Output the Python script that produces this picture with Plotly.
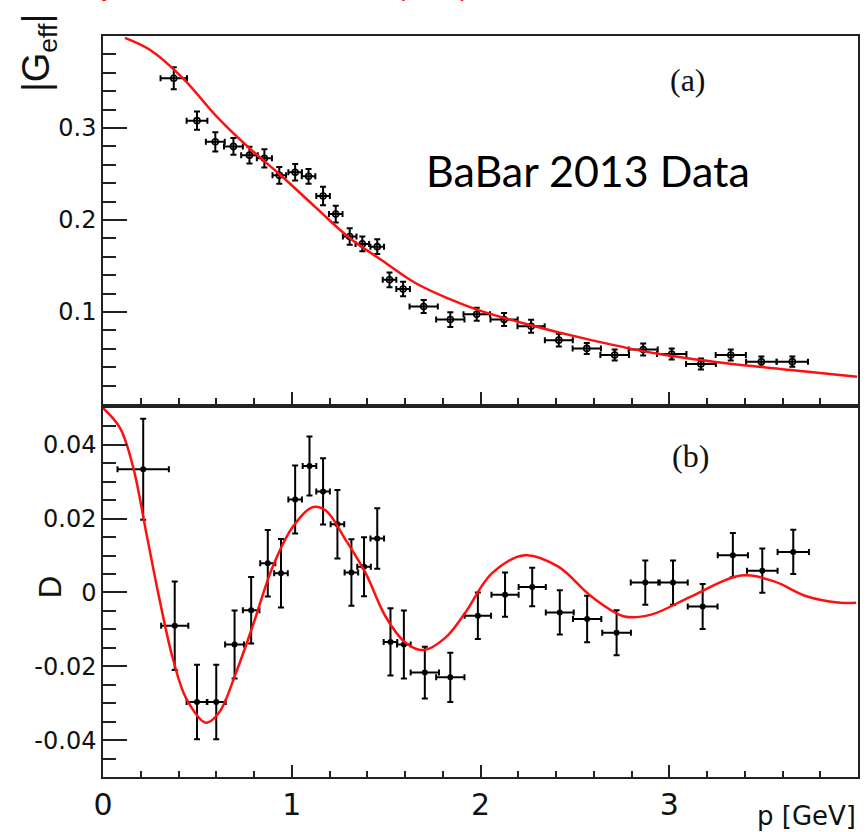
import plotly.graph_objects as go

# ---- Panel (a): |G_eff| vs p ----
p_a = [0.375, 0.498, 0.595, 0.691, 0.776, 0.855, 0.934, 1.018, 1.089, 1.166,
       1.233, 1.307, 1.374, 1.453, 1.518, 1.590, 1.699, 1.840, 1.980, 2.125,
       2.268, 2.415, 2.563, 2.711, 2.862, 3.013, 3.168, 3.326, 3.488, 3.652]
g_a = [0.354, 0.308, 0.285, 0.280, 0.2705, 0.267, 0.2485, 0.2518, 0.2475, 0.226,
       0.2064, 0.182, 0.174, 0.171, 0.135, 0.125, 0.106, 0.0918, 0.0975, 0.0918,
       0.0845, 0.0694, 0.0604, 0.0532, 0.0593, 0.0543, 0.0435, 0.0532, 0.046, 0.046]
g_a_err = [0.012, 0.01, 0.0105, 0.009, 0.009, 0.0099, 0.009, 0.009, 0.008, 0.01,
           0.009, 0.009, 0.008, 0.008, 0.008, 0.008, 0.007, 0.008, 0.007, 0.007,
           0.007, 0.007, 0.006, 0.006, 0.0065, 0.006, 0.006, 0.006, 0.0055, 0.0055]
p_a_err = [0.07, 0.055, 0.05, 0.05, 0.044, 0.04, 0.036, 0.036, 0.036, 0.036,
           0.036, 0.036, 0.036, 0.036, 0.036, 0.036, 0.075, 0.075, 0.07, 0.072,
           0.072, 0.074, 0.075, 0.076, 0.077, 0.078, 0.079, 0.08, 0.081, 0.083]

# fit curve (a)
fit_a_p = [0.116, 0.248, 0.424, 0.600, 0.776, 0.934, 1.128, 1.303, 1.479, 1.655,
           1.831, 1.989, 2.236, 2.587, 2.939, 3.291, 3.643, 3.995]
fit_a_g = [0.398, 0.385, 0.354, 0.313, 0.278, 0.2500, 0.2135, 0.181, 0.156, 0.1315,
           0.1145, 0.1020, 0.0872, 0.0694, 0.0545, 0.0445, 0.037, 0.0297]

# ---- Panel (b): D vs p ----
p_b = [0.213, 0.380, 0.498, 0.600, 0.697, 0.785, 0.873, 0.943, 1.018, 1.094,
       1.166, 1.242, 1.316, 1.383, 1.453, 1.523, 1.594, 1.705, 1.840, 1.986,
       2.130, 2.274, 2.420, 2.565, 2.721, 2.873, 3.020, 3.177, 3.337, 3.493, 3.657]
d_b = [0.0334, -0.0090, -0.0297, -0.0297, -0.0141, -0.0048, 0.0079, 0.0052, 0.0252, 0.0343,
       0.0274, 0.0185, 0.0054, 0.0070, 0.0146, -0.0134, -0.0141, -0.0217, -0.0230, -0.0063,
       -0.0006, 0.0015, -0.0054, -0.0072, -0.0109, 0.0027, 0.0027, -0.0038, 0.0101, 0.0059, 0.0110]
d_b_err = [0.0137, 0.012, 0.0101, 0.0101, 0.0092, 0.009, 0.009, 0.0093, 0.0092, 0.008,
           0.009, 0.0093, 0.009, 0.008, 0.0082, 0.0091, 0.0092, 0.007, 0.0067, 0.0063,
           0.006, 0.0052, 0.006, 0.0063, 0.0061, 0.006, 0.006, 0.0061, 0.006, 0.006, 0.006]
p_b_err = [0.136, 0.072, 0.055, 0.05, 0.05, 0.044, 0.04, 0.036, 0.036, 0.036,
           0.036, 0.036, 0.036, 0.036, 0.036, 0.036, 0.036, 0.075, 0.075, 0.07,
           0.072, 0.072, 0.074, 0.075, 0.076, 0.077, 0.078, 0.079, 0.08, 0.081, 0.083]

fit_b_p = [0.0, 0.09, 0.16, 0.23, 0.30, 0.371, 0.442, 0.547, 0.617, 0.705,
           0.793, 0.899, 1.004, 1.11, 1.18, 1.286, 1.392, 1.497, 1.603, 1.699,
           1.813, 1.919, 2.06, 2.236, 2.412, 2.588, 2.763, 2.904, 3.115, 3.379,
           3.555, 3.731, 3.907, 3.99]
fit_b_d = [0.0500, 0.0446, 0.0339, 0.0160, -0.0020, -0.0181, -0.0288, -0.0353, -0.0324, -0.0217,
           -0.0091, 0.0070, 0.0177, 0.0231, 0.0222, 0.0142, 0.0052, -0.0065, -0.0136, -0.0156,
           -0.0123, -0.0055, 0.0052, 0.0101, 0.0070, -0.0011, -0.0065, -0.0060, -0.0011, 0.0046,
           0.0030, -0.0011, -0.0028, -0.0028]

x_ticks = [0, 1, 2, 3]
x_ticktext = ['0', '1', '2', '3']
top_y_ticks = [0.1, 0.2, 0.3]
top_y_text = ['0.1', '0.2', '0.3']
bot_y_ticks = [-0.04, -0.02, 0, 0.02, 0.04]
bot_y_text = ['-0.04', '-0.02', '0', '0.02', '0.04']

fig = go.Figure()

err_style = dict(type='data', color='black', thickness=2, width=3)

fig.add_trace(go.Scatter(
    x=p_a, y=g_a, mode='markers', xaxis='x', yaxis='y',
    marker=dict(symbol='circle-open', size=6, color='black', line=dict(width=1.6)),
    error_y=dict(array=g_a_err, **err_style),
    error_x=dict(array=p_a_err, **err_style),
    showlegend=False))
fig.add_trace(go.Scatter(
    x=fit_a_p, y=fit_a_g, mode='lines', xaxis='x', yaxis='y',
    line=dict(color='#ff1010', width=2.5, shape='spline', smoothing=1.0),
    showlegend=False))

fig.add_trace(go.Scatter(
    x=p_b, y=d_b, mode='markers', xaxis='x2', yaxis='y2',
    marker=dict(symbol='circle', size=6, color='black'),
    error_y=dict(array=d_b_err, **err_style),
    error_x=dict(array=p_b_err, **err_style),
    showlegend=False))
fig.add_trace(go.Scatter(
    x=fit_b_p, y=fit_b_d, mode='lines', xaxis='x2', yaxis='y2',
    line=dict(color='#ff1010', width=2.5, shape='spline', smoothing=1.0),
    showlegend=False))

frame = dict(showline=True, mirror=True, linecolor='#222', linewidth=1.5,
             showgrid=False, zeroline=False)
tick_c = dict(tickwidth=1.5, tickcolor='#222')

y_dom_top = [0.5034, 1.0]
y_dom_bot = [0.0, 0.498]

fig.update_layout(
    width=866, height=832,
    margin=dict(l=103, r=6, t=36, b=55),
    paper_bgcolor='white', plot_bgcolor='white',
    font=dict(family='DejaVu Sans', color='#111'),
    xaxis=dict(domain=[0, 1], anchor='y', range=[0, 4], tickmode='array',
               tickvals=x_ticks, ticktext=x_ticktext, showticklabels=False,
               ticks='inside', ticklen=12, **tick_c,
               minor=dict(tick0=0, dtick=0.2, ticks='inside', ticklen=6, **tick_c),
               **frame),
    yaxis=dict(domain=y_dom_top, anchor='x', range=[0, 0.4], tickmode='array',
               tickvals=top_y_ticks, ticktext=top_y_text,
               ticks='inside', ticklen=24, **tick_c,
               tickfont=dict(size=24, family='DejaVu Sans', color='#111'),
               minor=dict(tick0=0, dtick=0.02, ticks='inside', ticklen=13, **tick_c),
               **frame),
    xaxis2=dict(domain=[0, 1], anchor='y2', range=[0, 4], matches='x',
                tickmode='array', tickvals=x_ticks, ticktext=x_ticktext,
                ticks='inside', ticklen=12, **tick_c,
                tickfont=dict(size=30, family='DejaVu Sans', color='#111'),
                minor=dict(tick0=0, dtick=0.2, ticks='inside', ticklen=6, **tick_c),
                **frame),
    yaxis2=dict(domain=y_dom_bot, anchor='x2', range=[-0.05, 0.05], tickmode='array',
                tickvals=bot_y_ticks, ticktext=bot_y_text,
                ticks='inside', ticklen=24, **tick_c,
                tickfont=dict(size=24, family='DejaVu Sans', color='#111'),
                minor=dict(tick0=0, dtick=0.005, ticks='inside', ticklen=13, **tick_c),
                **frame),
)

annotations = [
    dict(text='|G<sub>eff</sub>|', textangle=-90, xref='paper', yref='paper',
         x=-0.085, y=1.032, xanchor='center', yanchor='top', showarrow=False,
         font=dict(family='Liberation Sans', size=38, color='#111')),
    dict(text='D', textangle=-90, xref='paper', yref='paper',
         x=-0.070, y=0.2564, xanchor='center', yanchor='middle', showarrow=False,
         font=dict(family='Liberation Sans', size=31, color='#111')),
    dict(text='p [GeV]', xref='paper', yref='paper', x=1.0, y=-0.052,
         xanchor='right', yanchor='middle', showarrow=False,
         font=dict(family='DejaVu Sans', size=26, color='#111')),
    dict(text='(a)', xref='paper', yref='paper', x=(690 - 103) / 757, y=(777 - 80) / 741,
         xanchor='center', yanchor='middle', showarrow=False,
         font=dict(family='Liberation Serif', size=32, color='#111')),
    dict(text='(b)', xref='paper', yref='paper', x=(692 - 103) / 757, y=(777 - 456) / 741,
         xanchor='center', yanchor='middle', showarrow=False,
         font=dict(family='Liberation Serif', size=32, color='#111')),
    dict(text='BaBar 2013 Data', xref='paper', yref='paper', x=(589 - 103) / 757,
         y=(777 - 170) / 741, xanchor='center', yanchor='middle', showarrow=False,
         font=dict(family='Lato', size=43, color='black')),
    dict(text='Phys. Rev. Lett. 114, 162001 (2015)', xref='paper', yref='paper',
         x=(69 - 103) / 757, y=(777 + 13) / 741, xanchor='left', yanchor='middle',
         showarrow=False, font=dict(family='Liberation Sans', size=25, color='red')),
]
fig.update_layout(annotations=annotations)

fig.write_html("out.html", config={'displayModeBar': False},
               post_script="document.body.style.margin='0px';")
